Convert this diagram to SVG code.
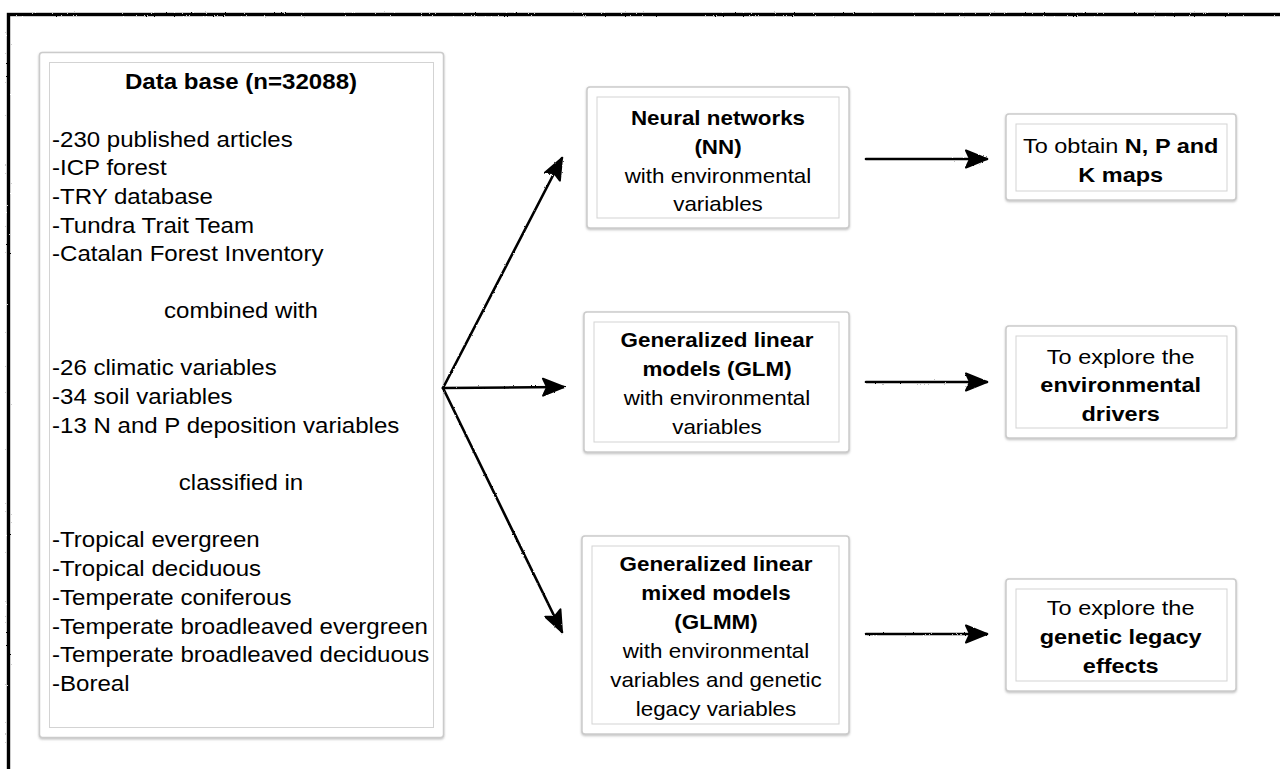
<svg xmlns="http://www.w3.org/2000/svg" width="1280" height="769" viewBox="0 0 1280 769">
<defs>
<style>
.outer{fill:#fff;stroke:#cbcbcb;stroke-width:1.5}
.inner{fill:none;stroke:#d3d3d3;stroke-width:1}
text{font-family:"Liberation Sans",Arial,sans-serif;fill:#000}
.d{font-size:21.5px}
.c{font-size:20px;text-anchor:middle}
.r{font-size:21px;text-anchor:middle}
.m{text-anchor:middle}
.b{font-weight:bold}
.conn{stroke:#000;stroke-width:2.6;fill:none;stroke-linecap:round}
</style>
<filter id="shadow" x="-5%" y="-5%" width="110%" height="115%">
<feDropShadow dx="0" dy="1.2" stdDeviation="0.8" flood-color="#888" flood-opacity="0.55"/>
</filter>
<filter id="rough" filterUnits="userSpaceOnUse" x="0" y="0" width="1280" height="769">
<feTurbulence type="fractalNoise" baseFrequency="0.9" numOctaves="1" seed="3" result="n"/>
<feDisplacementMap in="SourceGraphic" in2="n" scale="2.2" xChannelSelector="R" yChannelSelector="G"/>
</filter>
<marker id="ah" markerUnits="userSpaceOnUse" markerWidth="26" markerHeight="22" viewBox="0 0 26 22" refX="24" refY="11" orient="auto">
<path d="M3,2.5 L24,11 L3,19.5 L7,11 Z" fill="#000" stroke="#000" stroke-width="2" stroke-linejoin="round"/>
</marker>
</defs>
<rect width="1280" height="769" fill="#fff"/>
<g id="frame" filter="url(#rough)">
<rect x="8.5" y="14.5" width="1300" height="800" fill="none" stroke="#000" stroke-width="3.4"/>
</g>

<g id="database">
<rect class="outer" x="39.5" y="52.5" width="404" height="685" rx="3" filter="url(#shadow)"/>
<rect class="inner" x="49.5" y="62.5" width="384" height="665"/>
<g transform="matrix(1.12 0 0 1 -28.92 0)">
<text class="d b m" x="241" y="89">Data base (n=32088)</text>
<text class="d m" x="241" y="318.5">combined with</text>
<text class="d m" x="241" y="490.5">classified in</text>
</g>
<g transform="matrix(1.12 0 0 1 -6.24 0)">
<text class="d" x="52" y="146.7">-230 published articles</text>
<text class="d" x="52" y="175.4">-ICP forest</text>
<text class="d" x="52" y="204.1">-TRY database</text>
<text class="d" x="52" y="232.8">-Tundra Trait Team</text>
<text class="d" x="52" y="261.5">-Catalan Forest Inventory</text>
<text class="d" x="52" y="375.5">-26 climatic variables</text>
<text class="d" x="52" y="404.2">-34 soil variables</text>
<text class="d" x="52" y="432.9">-13 N and P deposition variables</text>
<text class="d" x="52" y="547.5">-Tropical evergreen</text>
<text class="d" x="52" y="576.2">-Tropical deciduous</text>
<text class="d" x="52" y="604.9">-Temperate coniferous</text>
<text class="d" x="52" y="633.6">-Temperate broadleaved evergreen</text>
<text class="d" x="52" y="662.3">-Temperate broadleaved deciduous</text>
<text class="d" x="52" y="691">-Boreal</text>
</g>
</g>

<g id="nn">
<rect class="outer" x="587" y="87" width="262" height="141" rx="3" filter="url(#shadow)"/>
<rect class="inner" x="597" y="97" width="242" height="121"/>
<g transform="matrix(1.12 0 0 1 -86.16 0)">
<text class="c b" x="718" y="125">Neural networks</text>
<text class="c b" x="718" y="154">(NN)</text>
<text class="c" x="718" y="182.7">with environmental</text>
<text class="c" x="718" y="211">variables</text>
</g>
</g>

<g id="glm">
<rect class="outer" x="584" y="312" width="265" height="140" rx="3" filter="url(#shadow)"/>
<rect class="inner" x="594" y="322" width="245" height="120"/>
<g transform="matrix(1.12 0 0 1 -86.04 0)">
<text class="c b" x="717" y="347.3">Generalized linear</text>
<text class="c b" x="717" y="376">models (GLM)</text>
<text class="c" x="717" y="405">with environmental</text>
<text class="c" x="717" y="434">variables</text>
</g>
</g>

<g id="glmm">
<rect class="outer" x="582" y="536" width="267" height="198" rx="3" filter="url(#shadow)"/>
<rect class="inner" x="592" y="546" width="247" height="178"/>
<g transform="matrix(1.12 0 0 1 -85.92 0)">
<text class="c b" x="716" y="571">Generalized linear</text>
<text class="c b" x="716" y="600">mixed models</text>
<text class="c b" x="716" y="629">(GLMM)</text>
<text class="c" x="716" y="658">with environmental</text>
<text class="c" x="716" y="687.5">variables and genetic</text>
<text class="c" x="716" y="716.5">legacy variables</text>
</g>
</g>

<g id="maps">
<rect class="outer" x="1006" y="114" width="230" height="86" rx="3" filter="url(#shadow)"/>
<rect class="inner" x="1016" y="124" width="211" height="67"/>
<g transform="matrix(1.12 0 0 1 -134.48 0)">
<text class="r" x="1120.7" y="153.3">To obtain <tspan class="b">N, P and</tspan></text>
<text class="r b" x="1120.7" y="181.8">K maps</text>
</g>
</g>

<g id="drivers">
<rect class="outer" x="1006" y="326" width="230" height="112" rx="3" filter="url(#shadow)"/>
<rect class="inner" x="1016" y="336" width="211" height="92"/>
<g transform="matrix(1.12 0 0 1 -134.48 0)">
<text class="r" x="1120.7" y="363.7">To explore the</text>
<text class="r b" x="1120.7" y="392.3">environmental</text>
<text class="r b" x="1120.7" y="420.6">drivers</text>
</g>
</g>

<g id="legacy">
<rect class="outer" x="1006" y="579" width="230" height="112" rx="3" filter="url(#shadow)"/>
<rect class="inner" x="1016" y="589" width="211" height="92"/>
<g transform="matrix(1.12 0 0 1 -134.48 0)">
<text class="r" x="1120.7" y="615">To explore the</text>
<text class="r b" x="1120.7" y="643.8">genetic legacy</text>
<text class="r b" x="1120.7" y="672.6">effects</text>
</g>
</g>

<g id="connectors" filter="url(#rough)">
<line class="conn" x1="443" y1="388" x2="562" y2="158" marker-end="url(#ah)"/>
<line class="conn" x1="443" y1="388" x2="564" y2="387" marker-end="url(#ah)"/>
<line class="conn" x1="443" y1="388" x2="562" y2="632" marker-end="url(#ah)"/>
<line class="conn" x1="866" y1="159" x2="987" y2="159" marker-end="url(#ah)"/>
<line class="conn" x1="866" y1="382" x2="987" y2="382" marker-end="url(#ah)"/>
<line class="conn" x1="866" y1="634" x2="987" y2="634" marker-end="url(#ah)"/>
</g>
</svg>
